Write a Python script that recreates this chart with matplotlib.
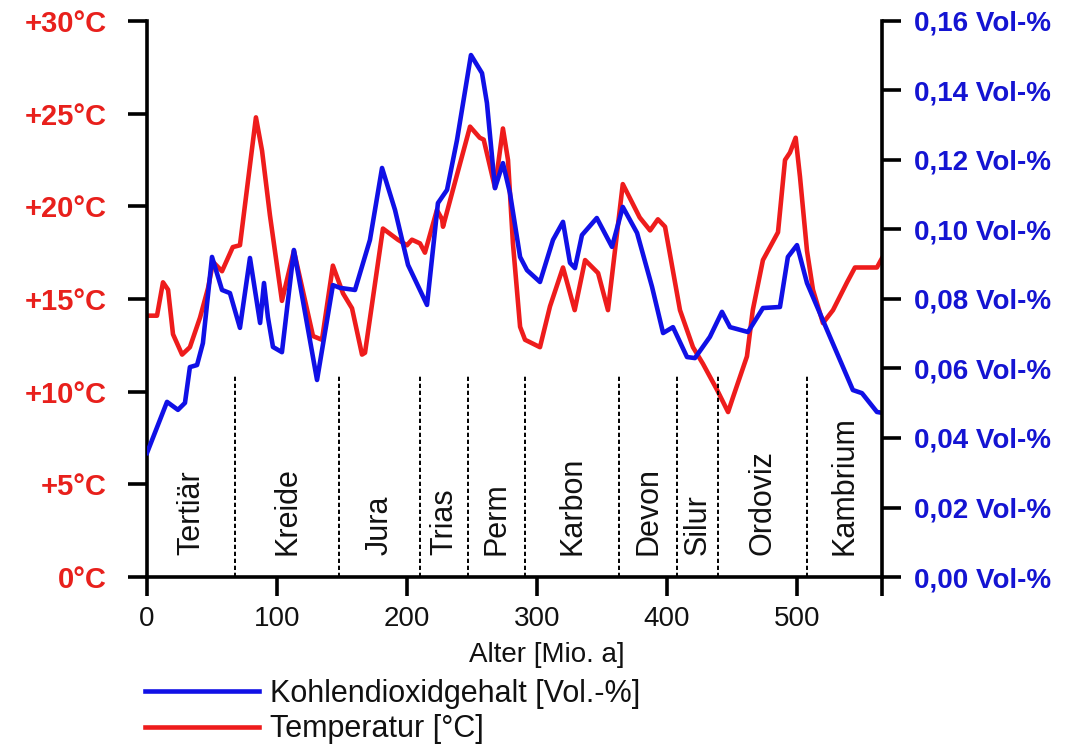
import matplotlib
matplotlib.use("Agg")
import matplotlib.pyplot as plt

plt.rcParams['font.family'] = ['Liberation Sans', 'DejaVu Sans']

# ---- data ----
temp_age = [0, 7.7, 12.3, 16.2, 20, 27, 33, 40.8, 47, 50.8, 57.7, 66, 71.5, 83.8, 88.5,
            94.6, 103.8, 113, 127.7, 134.6, 143, 150.8, 157.7, 165.4, 167.7, 181.5, 193,
            200, 203.8, 210, 213.8, 223, 227, 227.7, 234.6, 248.5, 256, 259, 267.7, 273.8,
            277.7, 281.5, 287, 290.8, 302.3, 310, 320, 329, 337, 347, 354.6, 366, 379, 387,
            393, 398.5, 410, 420, 427.7, 438.5, 447, 450.8, 461.5, 466, 473.8, 485.4, 490.8,
            494.6, 499, 502.3, 507.7, 512.3, 520, 527.7, 538.5, 544.6, 561.5, 565.4]
temp_val = [14.1, 14.1, 15.9, 15.5, 13.1, 12.0, 12.4, 14.0, 15.6, 17.0, 16.5, 17.8, 17.9,
            24.8, 23.0, 19.5, 14.9, 17.6, 13.0, 12.8, 16.8, 15.3, 14.5, 12.0, 12.1, 18.8,
            18.2, 17.9, 18.2, 18.0, 17.5, 19.8, 19.3, 18.9, 20.7, 24.3, 23.7, 23.6, 21.0,
            24.2, 22.5, 18.0, 13.5, 12.8, 12.4, 14.6, 16.7, 14.4, 17.1, 16.4, 14.4, 21.2,
            19.4, 18.7, 19.3, 18.9, 14.4, 12.4, 11.5, 10.1, 8.9, 9.7, 11.9, 14.4, 17.1, 18.6,
            22.5, 22.9, 23.7, 21.6, 17.6, 15.5, 13.7, 14.4, 15.9, 16.7, 16.7, 17.2]

co2_age = [0, 15.4, 23.8, 29.2, 33, 38.5, 43, 50, 57.7, 63.8, 71.5, 79.2, 87, 90, 93, 96.9,
           103.8, 113, 130.8, 143, 148.5, 160, 171.5, 180.8, 190.8, 200.8, 215.4, 223.8,
           230.8, 238.5, 249.2, 257.7, 261.5, 267.7, 273.8, 279.2, 287, 292.3, 302.3, 312.3,
           320, 325.4, 329.2, 334.6, 346, 357.7, 366, 377, 388.5, 397, 404.6, 415.4, 421.5,
           433, 442.3, 448.5, 462.3, 473.8, 486.9, 493, 500, 507.7, 525.4, 543, 550, 561.5,
           566]
co2_val = [0.0357, 0.0504, 0.0481, 0.0501, 0.0604, 0.0610, 0.0673, 0.0921, 0.0826, 0.0817,
           0.0717, 0.0918, 0.0731, 0.0846, 0.0748, 0.0662, 0.0647, 0.0941, 0.0567, 0.0840,
           0.0832, 0.0826, 0.0970, 0.1177, 0.1056, 0.0898, 0.0783, 0.1076, 0.1114, 0.1258,
           0.1502, 0.1450, 0.1364, 0.1119, 0.1191, 0.1105, 0.0921, 0.0883, 0.0849, 0.0970,
           0.1022, 0.0904, 0.0889, 0.0984, 0.1033, 0.0950, 0.1065, 0.0990, 0.0835, 0.0702,
           0.0719, 0.0633, 0.0630, 0.0691, 0.0763, 0.0719, 0.0705, 0.0774, 0.0777, 0.0921,
           0.0955, 0.0846, 0.0691, 0.0538, 0.0529, 0.0475, 0.0472]

period_names = ["Tertiär", "Kreide", "Jura", "Trias", "Perm", "Karbon", "Devon", "Silur",
                "Ordoviz", "Kambrium"]
period_bounds = [0, 68, 148, 210, 247, 291, 363, 408, 439, 508, 565.4]

temp_ticks = [0, 5, 10, 15, 20, 25, 30]
co2_ticks = [0.00, 0.02, 0.04, 0.06, 0.08, 0.10, 0.12, 0.14, 0.16]
age_ticks = [0, 100, 200, 300, 400, 500]

RED = "#e8201c"
BLUE = "#1414d2"
LINE_RED = "#ee1c1c"
LINE_BLUE = "#1010e6"

fig = plt.figure(figsize=(10.68, 7.46), dpi=100)
W, H = 1068, 746
ax = fig.add_axes([147 / W, 1 - 577 / H, (882 - 147) / W, (577 - 21) / H])
ax2 = ax.twinx()

xmax = period_bounds[-1]
ax.set_xlim(0, xmax)
ax.set_ylim(0, 30)
ax2.set_ylim(0, 0.16)

l_red, = ax.plot(temp_age, temp_val, color=LINE_RED, lw=3.3, solid_joinstyle='round',
                 label="Temperatur [°C]")
l_blue, = ax2.plot(co2_age, co2_val, color=LINE_BLUE, lw=3.3, solid_joinstyle='round',
                   label="Kohlendioxidgehalt [Vol.-%]")

# period boundaries
ax.vlines(period_bounds[1:-1], 0, 10.9, colors='black', linestyles=(0, (2.2, 1.4)), lw=1.4)
for i, name in enumerate(period_names):
    xc = 0.5 * (period_bounds[i] + period_bounds[i + 1])
    ax.text(xc, 1.2, name, rotation=90, ha='center', va='bottom', fontsize=22,
            color='#111111')

# spines
for a in (ax, ax2):
    a.spines['top'].set_visible(False)
ax2.spines['left'].set_visible(False)
ax2.spines['bottom'].set_visible(False)
for s in ('left', 'bottom'):
    ax.spines[s].set_linewidth(2.6)
ax.spines['right'].set_visible(False)
ax2.spines['right'].set_linewidth(2.6)

# ticks
ax.set_yticks(temp_ticks)
ax.set_yticklabels([("+%d°C" % v) if v > 0 else "0°C" for v in temp_ticks])
ax.tick_params(axis='y', direction='out', length=14, width=2.6, pad=15,
               labelsize=21, labelcolor=RED)
for t in ax.get_yticklabels():
    t.set_fontweight('bold')

ax.set_xticks(age_ticks)
ax.set_xticks([xmax], minor=True)
ax.tick_params(axis='x', which='both', direction='out', length=14, width=2.6, pad=7,
               labelsize=20, labelcolor='#111111')

ax2.set_yticks(co2_ticks)
ax2.set_yticklabels([("%.2f" % v).replace('.', ',') + " Vol-%" for v in co2_ticks])
ax2.tick_params(axis='y', direction='out', length=14, width=2.6, pad=9,
                labelsize=20, labelcolor=BLUE)
for t in ax2.get_yticklabels():
    t.set_fontweight('bold')

fig.text(547 / W, 1 - 655 / H, "Alter [Mio. a]", ha='center', va='center', fontsize=20,
         color='#111111')

leg = fig.legend(handles=[l_blue, l_red], loc='upper left',
                 bbox_to_anchor=(145 / W, 1 - 679 / H), bbox_transform=fig.transFigure,
                 frameon=False, fontsize=22, handlelength=3.73, handletextpad=0.36,
                 labelspacing=0.18, borderpad=0, borderaxespad=0)
for t in leg.get_texts():
    t.set_color('#111111')

fig.savefig("out.png", dpi=100)
